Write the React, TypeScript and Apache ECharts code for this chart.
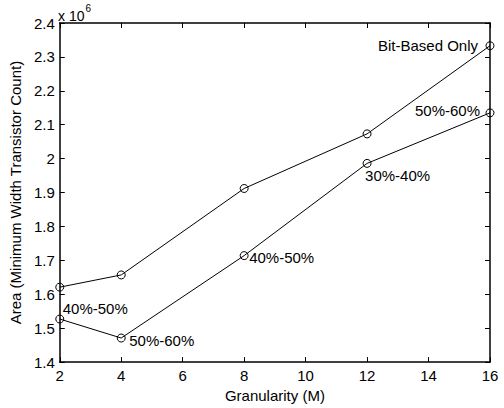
import React, { useEffect, useRef } from "react";
import * as echarts from "echarts";

// Granularity M (x axis)
const granularity = [2, 4, 8, 12, 16];
// Area in units of 10^6 minimum-width transistors
const bitBasedValues = [1.621, 1.657, 1.912, 2.073, 2.333];
const mixedValues = [1.527, 1.471, 1.714, 1.986, 2.135];
// Point annotations
const bitBasedLabels = ["", "", "", "", "Bit-Based Only"];
const mixedLabels = ["40%-50%", "50%-60%", "40%-50%", "30%-40%", "50%-60%"];
const xTicks = { min: 2, max: 16, interval: 2 };
const yTicks = { min: 1.4, max: 2.4, interval: 0.1 };

// label placements (style, separate from data)
const bitBasedPlace: Array<[string, number, number]> = [
  ["left", 0, 0], ["left", 0, 0], ["left", 0, 0], ["left", 0, 0], ["right", -12, 0],
];
const mixedPlace: Array<[string, number, number]> = [
  ["left", 3, -11], ["left", 8, 2.5], ["left", 5, 1.5], ["left", -2, 12], ["right", -10, -2],
];

const FONT = "'Liberation Sans', Arial, Helvetica, sans-serif";
const markerStyle = { color: "rgba(0,0,0,0)", borderColor: "#000", borderWidth: 1 };

function buildData(xs: number[], ys: number[], labels: string[], place: Array<[string, number, number]>) {
  return xs.map((x, i) => ({
    value: [x, ys[i]],
    itemStyle: markerStyle,
    label: {
      show: labels[i] !== "",
      formatter: labels[i],
      position: "inside",
      align: place[i][0],
      verticalAlign: "middle",
      offset: [place[i][1], place[i][2]],
      color: "#000",
      fontSize: 15,
      fontFamily: FONT,
    },
  }));
}

export default function App() {
  const ref = useRef<HTMLDivElement>(null);
  useEffect(() => {
    if (!ref.current) return;
    const chart = echarts.init(ref.current, null, { renderer: "svg" });
    const axisLine = { show: true, lineStyle: { color: "#000", width: 1.5 } };
    const tick = { show: true, inside: true, length: 5, lineStyle: { color: "#000", width: 1 } };
    const seriesCommon = {
      type: "line",
      symbol: "circle",
      symbolSize: 8,
      lineStyle: { color: "#000", width: 1 },
      itemStyle: markerStyle,
      emphasis: { disabled: true },
      clip: false,
    };
    chart.setOption({
      animation: false,
      backgroundColor: "#fff",
      textStyle: { fontFamily: FONT },
      grid: { left: 57, right: 14, top: 23, bottom: 45, containLabel: false },
      xAxis: [
        {
          type: "value",
          ...xTicks,
          position: "bottom",
          name: "Granularity (M)",
          nameLocation: "middle",
          nameGap: 25,
          nameTextStyle: { fontSize: 15, color: "#000", fontFamily: FONT },
          axisLine,
          axisTick: tick,
          axisLabel: { color: "#000", fontSize: 15, margin: 6, fontFamily: FONT },
          splitLine: { show: false },
        },
        {
          type: "value",
          ...xTicks,
          position: "top",
          axisLine,
          axisTick: tick,
          axisLabel: { show: false },
          splitLine: { show: false },
        },
      ],
      yAxis: [
        {
          type: "value",
          ...yTicks,
          position: "left",
          name: "Area (Minimum Width Transistor Count)",
          nameLocation: "middle",
          nameGap: 29,
          nameTextStyle: { fontSize: 15, color: "#000", fontFamily: FONT },
          axisLine,
          axisTick: tick,
          axisLabel: { color: "#000", fontSize: 15, margin: 5, fontFamily: FONT },
          splitLine: { show: false },
        },
        {
          type: "value",
          ...yTicks,
          position: "right",
          axisLine,
          axisTick: tick,
          axisLabel: { show: false },
          splitLine: { show: false },
        },
      ],
      graphic: [
        {
          type: "text",
          left: 58,
          top: 3,
          style: {
            text: "{a|x 10}{b|6}",
            rich: {
              a: { fontSize: 14, fontFamily: FONT, fill: "#000", verticalAlign: "bottom", padding: [6, 0, 0, 0] },
              b: { fontSize: 10, fontFamily: FONT, fill: "#000", verticalAlign: "top", padding: [0, 0, 0, 1] },
            },
          },
        },
      ],
      series: [
        { ...seriesCommon, name: "Bit-Based Only", data: buildData(granularity, bitBasedValues, bitBasedLabels, bitBasedPlace) },
        { ...seriesCommon, name: "Mixed", data: buildData(granularity, mixedValues, mixedLabels, mixedPlace) },
      ],
    });
    return () => chart.dispose();
  }, []);
  return (
    <div
      ref={ref}
      style={{ position: "absolute", left: 0, top: 0, width: 504, height: 408, background: "#fff" }}
    />
  );
}
